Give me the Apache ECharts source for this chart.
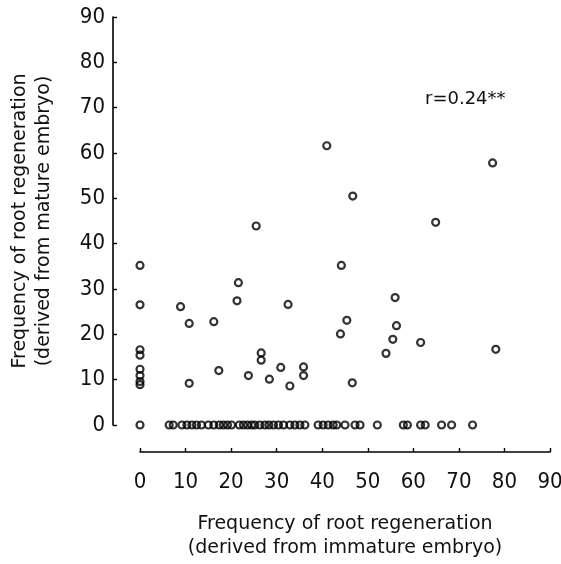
<!DOCTYPE html>
<html>
<head>
<meta charset="utf-8">
<script src="https://cdn.jsdelivr.net/npm/echarts@6/dist/echarts.min.js"></script>
<style>
  html, body { margin: 0; padding: 0; background: #fff; }
  #main { width: 561px; height: 564px; }
</style>
</head>
<body>
<div id="main"></div>
<script>
// points lying on x = 0 (only mature-embryo value differs)
var zeroColumnY = [35.2, 26.5, 16.6, 15.4, 12.3, 10.9, 9.6, 8.9, 0]
// points lying on y = 0 (only immature-embryo value differs)
var zeroRowX = [6.4, 7.3, 9.2, 10.3, 11.4, 12.4, 13.5, 15.0, 16.2, 17.4, 18.3, 19.2, 20.1,
  21.8, 22.7, 23.6, 24.5, 25.2, 26.3, 27.4, 28.3, 29.3, 30.4, 31.5, 32.9, 34.0, 35.1,
  36.2, 39.1, 40.2, 41.3, 42.4, 43.2, 45.0, 47.2, 48.3, 52.1, 57.8, 58.7, 61.6, 62.6,
  66.2, 68.4, 73.0]
// remaining points [immature, mature]
var otherPoints = [
  [8.9, 26.1], [10.8, 22.4], [16.2, 22.8], [21.3, 27.4], [21.6, 31.4], [25.5, 43.9],
  [26.6, 15.9], [26.6, 14.3], [10.8, 9.2], [17.3, 12.0], [23.8, 10.9], [28.4, 10.1],
  [30.9, 12.7], [32.5, 26.6], [32.9, 8.6], [35.9, 12.8], [35.9, 10.9], [41.0, 61.6],
  [44.2, 35.2], [45.4, 23.1], [44.0, 20.1], [46.7, 50.5], [46.6, 9.3], [54.0, 15.8],
  [55.5, 18.9], [56.0, 28.1], [56.3, 21.9], [61.6, 18.2], [64.9, 44.7], [77.4, 57.8],
  [78.1, 16.7]
]
var corrText = 'r=0.24**'

var data = []
zeroColumnY.forEach(function (y) { data.push([0, y]) })
zeroRowX.forEach(function (x) { data.push([x, 0]) })
otherPoints.forEach(function (p) { data.push(p) })

var tickFont = '"Liberation Sans Narrow", "DejaVu Sans Condensed", sans-serif'
var nameFont = '"DejaVu Sans", sans-serif'

var myChart = echarts.init(document.getElementById('main'))
var option = {
  backgroundColor: '#fff',
  animation: false,
  grid: { left: 140, right: 11, top: 17, bottom: 139, outerBoundsMode: 'none' },
  xAxis: {
    type: 'value',
    min: 0,
    max: 90,
    interval: 10,
    offset: 27,
    name: 'Frequency of root regeneration\n(derived from immature embryo)',
    nameLocation: 'middle',
    nameGap: 60,
    nameTextStyle: { fontFamily: nameFont, fontSize: 19, color: '#111', lineHeight: 24 },
    axisLine: { onZero: false, lineStyle: { color: '#000', width: 1.6 } },
    axisTick: { inside: true, length: 4, lineStyle: { color: '#000', width: 1.4 } },
    axisLabel: { fontFamily: tickFont, fontSize: 22, color: '#111', margin: 19 },
    splitLine: { show: false }
  },
  yAxis: {
    type: 'value',
    min: 0,
    max: 90,
    interval: 10,
    offset: 27,
    name: 'Frequency of root regeneration\n(derived from mature embryo)',
    nameLocation: 'middle',
    nameGap: 57,
    nameTextStyle: { fontFamily: nameFont, fontSize: 19, color: '#111', lineHeight: 24 },
    axisLine: { onZero: false, lineStyle: { color: '#000', width: 1.6 } },
    axisTick: { inside: true, length: 4, lineStyle: { color: '#000', width: 1.4 } },
    axisLabel: { fontFamily: tickFont, fontSize: 22, color: '#111', margin: 8 },
    splitLine: { show: false }
  },
  graphic: [{
    type: 'text',
    left: 425,
    top: 90,
    style: { text: corrText, font: '18px "DejaVu Sans", sans-serif', fill: '#111' }
  }],
  series: [{
    type: 'scatter',
    data: data,
    symbol: 'circle',
    symbolSize: 7,
    itemStyle: { color: 'rgba(0,0,0,0)', borderColor: '#000', borderWidth: 2.2 },
    emphasis: { disabled: true }
  }]
}
myChart.setOption(option)
</script>
</body>
</html>
